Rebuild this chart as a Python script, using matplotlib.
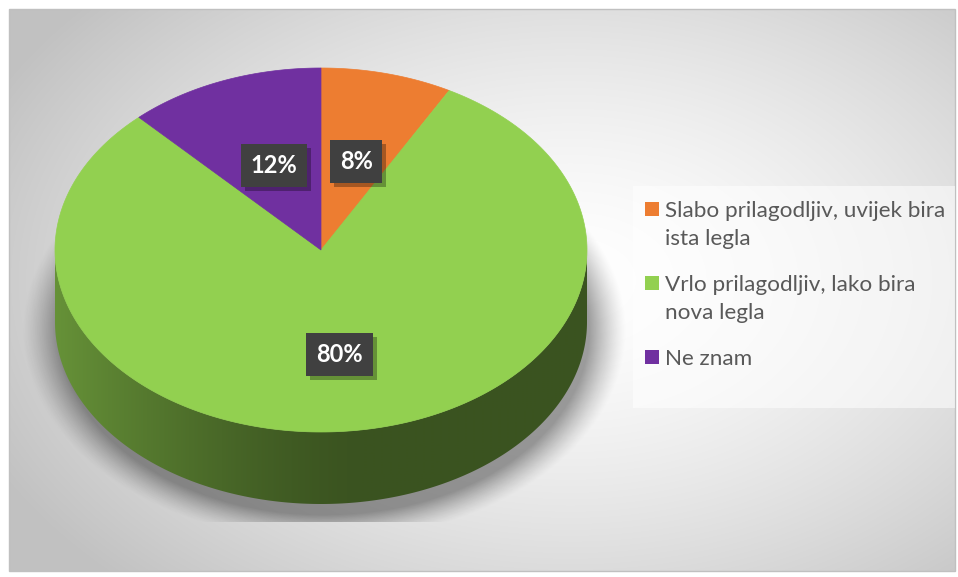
import numpy as np
import matplotlib.pyplot as plt
from matplotlib.patches import Polygon, Rectangle
from matplotlib.colors import to_rgb

labels = ['Slabo prilagodljiv, uvijek bira\nista legla',
          'Vrlo prilagodljiv, lako bira\nnova legla',
          'Ne znam']
values = [8, 80, 12]
colors = ['#ED7D31', '#92D050', '#7030A0']

W, H = 958, 577
fig = plt.figure(figsize=(W / 100, H / 100), dpi=100)
ax = fig.add_axes([0, 0, 1, 1])
ax.set_xlim(0, W)
ax.set_ylim(H, 0)

# chart area background: radial grey gradient
x0, x1, y0, y1 = 9, 955, 9, 571
yy, xx = np.mgrid[y0:y1, x0:x1]
d = np.sqrt(((xx - 570) / 640.0) ** 2 + ((yy - 280) / 420.0) ** 2)
g = 1 - 0.24 * np.clip(d, 0, 1) ** 1.5
ax.imshow(np.dstack([g, g, g]), extent=(x0, x1, y1, y0), origin='upper',
          interpolation='bilinear', zorder=0)
ax.add_patch(Rectangle((x0, y0), x1 - x0, y1 - y0, fill=False, ec='#c0c0c0', lw=1, zorder=1))

# pie geometry
cx, cy, rx, ry, depth = 321, 250, 266, 182, 72


def ex(t):
    return cx + rx * np.sin(t)


def ey(t):
    return cy - ry * np.cos(t)


# soft shadow under the pie, clipped to the plot area
sy, sx = np.mgrid[0:522, 0:W]
ds = np.sqrt(((sx - cx - 3) / (rx + 4.0)) ** 2 + ((sy - cy - depth - 8) / (ry + 6.0)) ** 2)
alpha = 0.38 * np.clip((1.12 - ds) / 0.14, 0, 1) ** 1.3
shadow = np.zeros((522, W, 4))
shadow[..., 3] = alpha
ax.imshow(shadow, extent=(0, W, 522, 0), origin='upper', interpolation='bilinear', zorder=2)

fracs = np.array(values, dtype=float) / sum(values)
starts = np.concatenate([[0], np.cumsum(fracs)[:-1]]) * 2 * np.pi
ends = np.cumsum(fracs) * 2 * np.pi

# side wall (front half only), shaded by a horizontal gradient
for a, b, c in zip(starts, ends, colors):
    lo, hi = max(a, np.pi / 2), min(b, 3 * np.pi / 2)
    if lo >= hi:
        continue
    ts = np.linspace(lo, hi, 400)
    pts = list(zip(ex(ts), ey(ts))) + list(zip(ex(ts[::-1]), ey(ts[::-1]) + depth))
    wall = Polygon(pts, closed=True, fc='none', ec='none', zorder=3)
    ax.add_patch(wall)
    xs = np.arange(cx - rx - 2, cx + rx + 3)
    s = np.clip((cx + 0.15 * rx - xs) / (1.15 * rx), 0, 1)
    f = 0.40 + 0.30 * s ** 1.4
    grad = np.array(to_rgb(c))[None, None, :] * f[None, :, None]
    grad = np.repeat(grad, 2, axis=0)
    im = ax.imshow(grad, extent=(xs[0], xs[-1], cy + ry + depth + 2, cy - 2),
                   origin='upper', interpolation='bilinear', zorder=3)
    im.set_clip_path(wall)

# top face
for a, b, c in zip(starts, ends, colors):
    ts = np.linspace(a, b, 300)
    pts = [(cx, cy)] + list(zip(ex(ts), ey(ts)))
    ax.add_patch(Polygon(pts, closed=True, fc=c, ec=c, lw=0.5, zorder=4))

# data labels
label_texts = []
for a, b, v in zip(starts, ends, values):
    m = 0.5 * (a + b)
    lx = cx + 0.5 * rx * np.sin(m) + 2
    ly = cy - 0.5 * ry * np.cos(m) + 0.2 * depth * max(0, -np.cos(m))
    t = ax.text(lx, ly, f'{v}%', ha='center', va='center', fontsize=17, fontweight='bold',
                family='Lato', color='white', zorder=6,
                bbox=dict(boxstyle='square,pad=0.42', fc='#404040', ec='none'))
    label_texts.append(t)

# drop shadows behind the label boxes
fig.canvas.draw()
inv = ax.transData.inverted()
for t in label_texts:
    bb = t.get_bbox_patch().get_window_extent()
    (bx0, by0), (bx1, by1) = inv.transform([(bb.x0, bb.y0), (bb.x1, bb.y1)])
    ax.add_patch(Rectangle((min(bx0, bx1) + 4, min(by0, by1) + 4), abs(bx1 - bx0), abs(by1 - by0),
                           fc='black', ec='none', alpha=0.3, zorder=5))

# legend
ax.add_patch(Rectangle((633, 186), 322, 222, fc='white', ec='none', alpha=0.55, zorder=4))
base_y = 217
for i, (lab, c) in enumerate(zip(labels, colors)):
    yb = base_y + 74 * i
    ax.add_patch(Rectangle((645, yb - 15), 14, 14, fc=c, ec='none', zorder=5))
    for k, line in enumerate(lab.split('\n')):
        ax.text(665, yb + 28 * k, line, ha='left', va='baseline', fontsize=16.2,
                family='Lato', color='#595959', zorder=5)

ax.set_xlim(0, W)
ax.set_ylim(H, 0)
ax.set_aspect('auto')
ax.axis('off')
fig.savefig('out.png', dpi=100, facecolor='white')
